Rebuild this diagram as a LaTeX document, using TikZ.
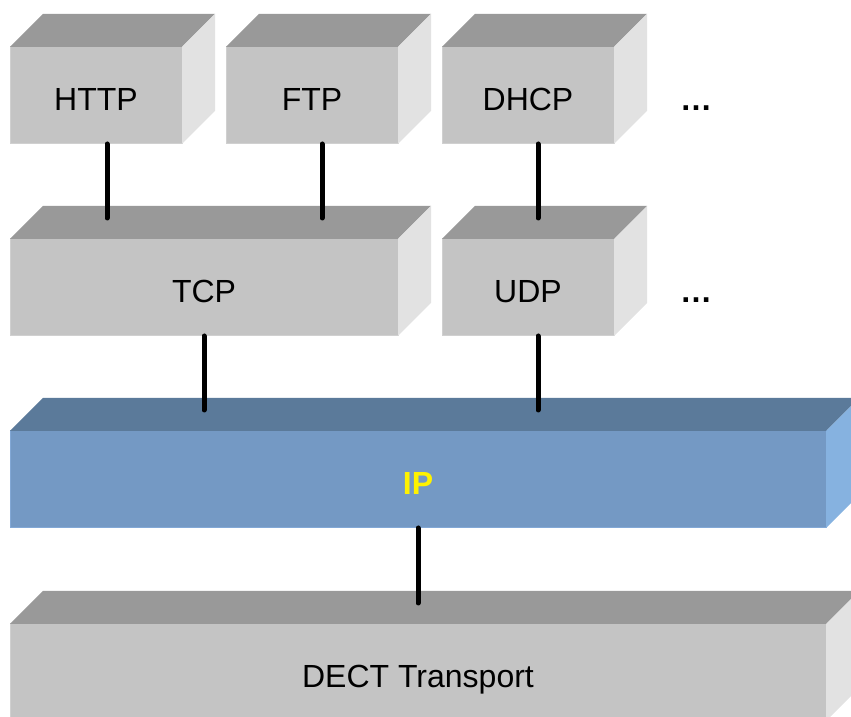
\documentclass[tikz,border=0pt]{standalone}
\usepackage{fontspec}
\setmainfont{Liberation Sans}
\usetikzlibrary{positioning,calc}
\definecolor{greyfront}{HTML}{C4C4C4}
\definecolor{greytop}{HTML}{999999}
\definecolor{greyside}{HTML}{E2E2E2}
\definecolor{greyedge}{HTML}{D0D0D0}
\definecolor{bluefront}{HTML}{7499C4}
\definecolor{bluetop}{HTML}{5B7A9A}
\definecolor{blueside}{HTML}{86B2E0}
\definecolor{blueedge}{HTML}{82A8D6}
\tikzset{layer/.style={fill=greyfront,draw=greyedge,line width=1pt,minimum width=172pt,minimum height=97pt,
                       inner sep=0pt,outer sep=0pt,text height=30pt,text depth=0pt,font=\fontsize{32}{38}\selectfont},
         iplayer/.style={layer,fill=bluefront,draw=blueedge,text=yellow,font=\fontsize{32}{38}\selectfont\bfseries},
         dots/.style={inner sep=0pt,font=\fontsize{32}{38}\selectfont\bfseries}
}
\tikzstyle{link} = [line width=5pt,line cap=round]
% top and side faces of a layer, plus a point on its top face
\newcommand{\cuboid}[2]{%
  \fill[#2top] (#1.north west) -- ++(33,33) -- ($(#1.north east)+(33,33)$) -- (#1.north east) -- cycle;
  \fill[#2side] (#1.north east) -- ++(33,33) -- ($(#1.south east)+(33,33)$) -- (#1.south east) -- cycle;
  \coordinate (#1-top) at ([yshift=21pt]#1.north);
}

\begin{document}
\begin{tikzpicture}[x=1pt,y=1pt]
\useasboundingbox (0,0) rectangle (851,717);
\clip (0,0) rectangle (851,717);

\node[layer] (http) at (96,621.5) {HTTP};
\node[layer,right=44pt of http] (ftp) {FTP};
\node[layer,right=44pt of ftp] (dhcp) {DHCP};
\node[dots,base right=66pt of dhcp] (moreapp) {…};
\node[layer,minimum width=388pt,below right=95pt and 0pt of http.south west] (tcp) {TCP};
\node[layer,below=95pt of dhcp] (udp) {UDP};
\node[dots,base right=66pt of udp] (moretrans) {…};
\node[iplayer,minimum width=816pt,below right=95pt and 0pt of tcp.south west] (ip) {IP};
\node[layer,minimum width=816pt,below=96pt of ip] (dect) {DECT Transport};

\cuboid{http}{grey}
\cuboid{ftp}{grey}
\cuboid{dhcp}{grey}
\cuboid{tcp}{grey}
\cuboid{udp}{grey}
\cuboid{ip}{blue}
\cuboid{dect}{grey}

\draw[link] ([xshift=11pt]http.south) coordinate (h1) -- (h1 |- tcp-top);
\draw[link] ([xshift=10pt]ftp.south) coordinate (f1) -- (f1 |- tcp-top);
\draw[link] ([xshift=10pt]dhcp.south) coordinate (d1) -- (d1 |- udp-top);
\draw[link] (tcp.south) -- (tcp.south |- ip-top);
\draw[link] ([xshift=10pt]udp.south) coordinate (u1) -- (u1 |- ip-top);
\draw[link] (ip.south) -- (ip.south |- dect-top);

\end{tikzpicture}
\end{document}
